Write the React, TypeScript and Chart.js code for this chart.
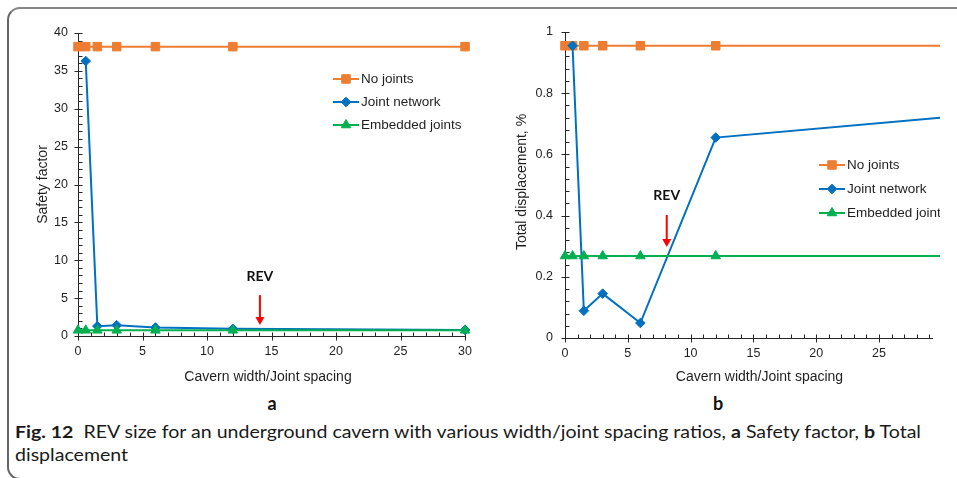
import React, { useEffect, useLayoutEffect, useRef } from "react";
import { Chart, registerables } from "chart.js";
import { drawPoint } from "chart.js/helpers";

Chart.register(...registerables);

// ---------------- data ----------------
const seriesLabels = ["No joints", "Joint network", "Embedded joints"];

// panel a : Safety factor
const spacingA = [0, 0.6, 1.5, 3, 6, 12, 30];
const noJointsA = [38.2, 38.2, 38.2, 38.2, 38.2, 38.2, 38.2];
const jointNetworkA: (number | null)[] = [null, 36.3, 1.3, 1.42, 1.12, 0.95, 0.8];
const embeddedA = [0.75, 0.75, 0.75, 0.75, 0.75, 0.75, 0.75];
const xTicksA = [0, 5, 10, 15, 20, 25, 30];
const yTicksA = [0, 5, 10, 15, 20, 25, 30, 35, 40];
const revA = { x: 14.1, textY: 7.8, top: 5.4, tip: 1.45 };

// panel b : Total displacement, %
const spacingB = [0, 0.6, 1.5, 3, 6, 12, 30];
const noJointsB = [0.955, 0.955, 0.955, 0.955, 0.955, 0.955, 0.955];
const jointNetworkB: (number | null)[] = [null, 0.955, 0.089, 0.145, 0.049, 0.655, 0.72];
const embeddedB = [0.268, 0.268, 0.268, 0.268, 0.268, 0.268, 0.268];
const xTicksB = [0, 5, 10, 15, 20, 25];
const yTicksB = [0, 0.2, 0.4, 0.6, 0.8, 1];
const revB = { x: 8.1, textY: 0.467, top: 0.402, tip: 0.297 };

// ---------------- styles ----------------
const ORANGE = "#ED7D31";
const BLUE = "#0070C0";
const GREEN = "#00B050";
const AXIS = "#262626";
const TEXT = "#1f1f1f";
const FONT = "'Liberation Sans', Arial, Helvetica, sans-serif";
const CAP_FONT = "Lato, 'Open Sans', sans-serif";

const pointStyles = ["rect", "rectRot", "triangle"];
const pointRadii = [6, 4.8, 5.5];
const colors = [ORANGE, BLUE, GREEN];

function makeDatasets(xs: number[], series: (number | null)[][]) {
  return series.map((ys, i) => ({
    label: seriesLabels[i],
    data: xs
      .map((x, k) => ({ x, y: ys[k] }))
      .filter((p) => p.y !== null && p.y !== undefined),
    borderColor: colors[i],
    backgroundColor: colors[i],
    borderWidth: 2,
    pointStyle: pointStyles[i],
    pointRadius: pointRadii[i],
    pointBorderWidth: 1,
    pointBackgroundColor: colors[i],
    pointBorderColor: colors[i],
    tension: 0,
    order: 3 - i,
    clip: 12,
  }));
}

const excelPlugin = {
  id: "excelAxes",
  beforeDatasetsDraw(chart: any, _args: any, o: any) {
    const { ctx, chartArea: ca } = chart;
    const xs = chart.scales.x;
    const ys = chart.scales.y;
    ctx.save();
    ctx.strokeStyle = AXIS;
    ctx.lineWidth = 1;
    const ax = Math.round(ca.left) + 0.5;
    const ay = Math.round(ca.bottom) + 0.5;
    ctx.beginPath();
    ctx.moveTo(ax, Math.round(ca.top));
    ctx.lineTo(ax, ay);
    ctx.moveTo(ax, ay);
    ctx.lineTo(Math.round(ca.right), ay);
    const majorsY = ys.ticks.map((t: any) => t.value);
    const majorsX = xs.ticks.map((t: any) => t.value);
    majorsY.forEach((v: number) => {
      const p = Math.round(ys.getPixelForValue(v)) + 0.5;
      ctx.moveTo(ax - 4, p);
      ctx.lineTo(ax + 4, p);
    });
    majorsX.forEach((v: number) => {
      const p = Math.round(xs.getPixelForValue(v)) + 0.5;
      ctx.moveTo(p, ay - 4);
      ctx.lineTo(p, ay + 4);
    });
    const minor = (scale: any, step: number, majors: number[], cb: (p: number) => void) => {
      const n = Math.floor((scale.max - scale.min) / step + 1e-6);
      for (let i = 0; i <= n; i++) {
        const v = scale.min + i * step;
        if (majors.some((m) => Math.abs(m - v) < step * 1e-3)) continue;
        cb(scale.getPixelForValue(v));
      }
    };
    minor(ys, o.yMinor, majorsY, (p) => {
      const q = Math.round(p) + 0.5;
      ctx.moveTo(ax, q);
      ctx.lineTo(ax + 4, q);
    });
    minor(xs, o.xMinor, majorsX, (p) => {
      const q = Math.round(p) + 0.5;
      ctx.moveTo(q, ay);
      ctx.lineTo(q, ay - 4);
    });
    ctx.stroke();

    // axis titles
    ctx.fillStyle = TEXT;
    ctx.font = `14px ${FONT}`;
    ctx.textAlign = "center";
    ctx.textBaseline = "middle";
    ctx.fillText(o.xTitle, (ca.left + ca.right) / 2 + o.xTitleDx, ca.bottom + o.xTitleDy);
    ctx.save();
    ctx.translate(ca.left - o.yTitleDx, (ca.top + ca.bottom) / 2 + o.yTitleDy);
    ctx.rotate(-Math.PI / 2);
    ctx.fillText(o.yTitle, 0, 0);
    ctx.restore();
    ctx.restore();
  },
  afterDatasetsDraw(chart: any, _args: any, o: any) {
    const { ctx, chartArea: ca } = chart;
    const xs = chart.scales.x;
    const ys = chart.scales.y;
    ctx.save();
    // legend
    chart.data.datasets.forEach((ds: any, i: number) => {
      const y = ca.top + o.legendTop + i * o.legendGap;
      const x0 = ca.left + o.legendLeft;
      ctx.strokeStyle = ds.borderColor;
      ctx.lineWidth = 2;
      ctx.beginPath();
      ctx.moveTo(x0, y);
      ctx.lineTo(x0 + 26, y);
      ctx.stroke();
      ctx.fillStyle = ds.backgroundColor;
      ctx.strokeStyle = ds.borderColor;
      ctx.lineWidth = 1;
      drawPoint(ctx, { pointStyle: ds.pointStyle, radius: ds.pointRadius, rotation: 0, borderWidth: 1 } as any, x0 + 13, y);
      ctx.fillStyle = TEXT;
      ctx.font = `13.5px ${FONT}`;
      ctx.textAlign = "left";
      ctx.textBaseline = "middle";
      ctx.fillText(ds.label, x0 + 28, y + 0.5);
    });
    // REV annotation
    const r = o.rev;
    const px = xs.getPixelForValue(r.x);
    ctx.fillStyle = "#111";
    ctx.font = `bold 14px ${CAP_FONT}`;
    ctx.textAlign = "center";
    ctx.textBaseline = "middle";
    ctx.fillText("REV", px, ys.getPixelForValue(r.textY));
    const top = ys.getPixelForValue(r.top);
    const tip = ys.getPixelForValue(r.tip);
    ctx.strokeStyle = "#FF0000";
    ctx.fillStyle = "#FF0000";
    ctx.lineWidth = 2;
    ctx.beginPath();
    ctx.moveTo(px, top);
    ctx.lineTo(px, tip - 6);
    ctx.stroke();
    ctx.beginPath();
    ctx.moveTo(px - 4.5, tip - 8);
    ctx.lineTo(px + 4.5, tip - 8);
    ctx.lineTo(px, tip);
    ctx.closePath();
    ctx.fill();
    ctx.restore();
  },
};

function makeConfig(p: {
  xs: number[];
  series: (number | null)[][];
  xTicks: number[];
  yTicks: number[];
  xMax: number;
  yMax: number;
  xMinor: number;
  yMinor: number;
  yWidth: number;
  xHeight: number;
  padding: any;
  yPad: number;
  plugin: any;
}) {
  return {
    type: "line",
    data: { datasets: makeDatasets(p.xs, p.series) },
    plugins: [excelPlugin],
    options: {
      animation: false,
      responsive: false,
      devicePixelRatio: 1,
      layout: { padding: p.padding },
      plugins: {
        legend: { display: false },
        tooltip: { enabled: false },
        excelAxes: { xMinor: p.xMinor, yMinor: p.yMinor, ...p.plugin },
      },
      scales: {
        x: {
          type: "linear",
          min: 0,
          max: p.xMax,
          grid: { display: false, drawTicks: false },
          border: { display: false },
          afterBuildTicks: (s: any) => {
            s.ticks = p.xTicks.map((v) => ({ value: v }));
          },
          afterFit: (s: any) => {
            s.height = p.xHeight;
          },
          ticks: {
            color: TEXT,
            font: { family: FONT, size: 12.5 },
            padding: 8,
            maxRotation: 0,
            autoSkip: false,
            callback: (v: any) => `${v}`,
          },
        },
        y: {
          type: "linear",
          min: 0,
          max: p.yMax,
          grid: { display: false, drawTicks: false },
          border: { display: false },
          afterBuildTicks: (s: any) => {
            s.ticks = p.yTicks.map((v) => ({ value: v }));
          },
          afterFit: (s: any) => {
            s.width = p.yWidth;
          },
          ticks: {
            color: TEXT,
            font: { family: FONT, size: 12.5 },
            padding: p.yPad,
            autoSkip: false,
            callback: (v: any) => `${v}`,
          },
        },
      },
    },
  };
}

function ChartCanvas({ config, left, top, width, height }: any) {
  const ref = useRef<HTMLCanvasElement | null>(null);
  useEffect(() => {
    if (!ref.current) return;
    const chart = new Chart(ref.current, config);
    return () => chart.destroy();
  }, [config]);
  return (
    <canvas
      ref={ref}
      width={width}
      height={height}
      style={{ position: "absolute", left, top, width, height }}
    />
  );
}

const configA = makeConfig({
  xs: spacingA,
  series: [noJointsA, jointNetworkA, embeddedA],
  xTicks: xTicksA,
  yTicks: yTicksA,
  xMax: 30,
  yMax: 40,
  xMinor: 1,
  yMinor: 1,
  yWidth: 68,
  xHeight: 54,
  padding: { left: 0, top: 23, right: 11, bottom: 0 },
  yPad: 10,
  plugin: {
    xTitle: "Cavern width/Joint spacing",
    yTitle: "Safety factor",
    xTitleDx: -3.5,
    xTitleDy: 41,
    yTitleDx: 35,
    yTitleDy: 0,
    legendLeft: 255,
    legendTop: 46,
    legendGap: 23,
    rev: revA,
  },
});

const configB = makeConfig({
  xs: spacingB,
  series: [noJointsB, jointNetworkB, embeddedB],
  xTicks: xTicksB,
  yTicks: yTicksB,
  xMax: 29.3,
  yMax: 1,
  xMinor: 1,
  yMinor: 0.04,
  yWidth: 75,
  xHeight: 52,
  padding: { left: 0, top: 22, right: 0, bottom: 0 },
  yPad: 12,
  plugin: {
    xTitle: "Cavern width/Joint spacing",
    yTitle: "Total displacement, %",
    xTitleDx: 10.5,
    xTitleDy: 39,
    yTitleDx: 43,
    yTitleDy: -3,
    legendLeft: 254,
    legendTop: 133,
    legendGap: 24,
    rev: revB,
  },
});

export default function App() {
  const capRef = useRef<HTMLDivElement | null>(null);
  const lineRef = useRef<HTMLSpanElement | null>(null);
  useLayoutEffect(() => {
    if (!capRef.current || !lineRef.current) return;
    const w = lineRef.current.getBoundingClientRect().width;
    if (w > 0) capRef.current.style.transform = `scaleX(${906 / w})`;
  }, []);

  return (
    <div
      style={{
        position: "fixed",
        left: 0,
        top: 0,
        width: 957,
        height: 478,
        overflow: "hidden",
        background: "#fff",
      }}
    >
      <div
        style={{
          position: "absolute",
          left: 7,
          top: 7,
          width: 1000,
          height: 473,
          boxSizing: "border-box",
          borderTop: "2px solid #858585",
          borderLeft: "2px solid #666",
          borderBottom: "2px solid #666",
          borderRadius: "13px 0 0 13px",
        }}
      />
      <ChartCanvas config={configA} left={10} top={10} width={470} height={380} />
      <ChartCanvas config={configB} left={490} top={10} width={450} height={380} />
      <div
        style={{
          position: "absolute",
          left: 252,
          width: 40,
          top: 392,
          textAlign: "center",
          font: `bold 18px ${CAP_FONT}`,
          color: "#111",
          lineHeight: "22px",
        }}
      >
        a
      </div>
      <div
        style={{
          position: "absolute",
          left: 698,
          width: 40,
          top: 392,
          textAlign: "center",
          font: `bold 18px ${CAP_FONT}`,
          color: "#111",
          lineHeight: "22px",
        }}
      >
        b
      </div>
      <div
        ref={capRef}
        style={{
          position: "absolute",
          left: 15,
          top: 420,
          font: `17px ${CAP_FONT}`,
          lineHeight: "23px",
          color: "#1a1a1a",
          whiteSpace: "nowrap",
          transformOrigin: "left top",
        }}
      >
        <span ref={lineRef} style={{ display: "inline-block" }}>
          <b>Fig. 12</b>&nbsp; REV size for an underground cavern with various width/joint spacing ratios,{" "}
          <b>a</b> Safety factor, <b>b</b> Total
        </span>
        <br />
        <span>displacement</span>
      </div>
    </div>
  );
}
